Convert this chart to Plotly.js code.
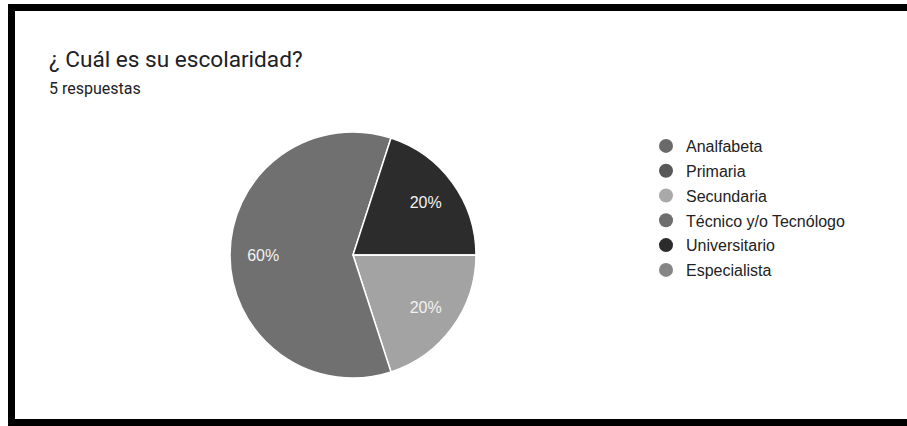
<!DOCTYPE html>
<html>
<head>
<meta charset="utf-8">
<script src="https://cdn.plot.ly/plotly-3.0.1.min.js"></script>
<style>
  html, body { margin: 0; padding: 0; background: #ffffff; }
  #chart { width: 907px; height: 426px; }
</style>
</head>
<body>
<div id="chart"></div>
<script>
// ---- data ----
const categories = ["Analfabeta", "Primaria", "Secundaria", "Técnico y/o Tecnólogo", "Universitario", "Especialista"];
const counts = [0, 0, 1, 3, 1, 0];
const chartTitle = "¿ Cuál es su escolaridad?";
const subtitle = "5 respuestas";

// ---- styles ----
const sliceColors = ["#696969", "#585858", "#a3a3a3", "#707070", "#2c2c2c", "#858585"];
const legendColors = ["#6a6a6a", "#585858", "#a9a9a9", "#6e6e6e", "#2b2b2b", "#858585"];

const W = 907, H = 426;
const px = v => v / W;
const py = v => (H - v) / H;
const pieDomain = { x: [px(230), px(476)], y: [py(378), py(132)] };

// filled slices
const pie = {
  type: "pie",
  labels: categories,
  values: counts,
  sort: false,
  direction: "clockwise",
  rotation: 90,
  marker: { colors: sliceColors, line: { color: "#ffffff", width: 1.5 } },
  textinfo: "none",
  hoverinfo: "label+percent",
  showlegend: false,
  domain: pieDomain
};

// same data, transparent ring carrying the percentage labels further out
const pieLabels = {
  type: "pie",
  labels: categories,
  values: counts,
  sort: false,
  direction: "clockwise",
  rotation: 90,
  hole: 0.46,
  marker: { colors: categories.map(() => "rgba(0,0,0,0)"), line: { width: 0 } },
  textinfo: "percent",
  texttemplate: "%{percent:.0%}",
  textposition: "inside",
  insidetextorientation: "horizontal",
  textfont: { family: "Liberation Sans, Arial, sans-serif", size: 16, color: "#f2f2f2" },
  hoverinfo: "skip",
  showlegend: false,
  domain: pieDomain
};

const legendTraces = categories.map((c, i) => ({
  type: "scatter",
  mode: "markers",
  x: [null],
  y: [null],
  name: c,
  legendgroup: "g" + i,
  marker: { symbol: "circle", size: 14, color: legendColors[i] },
  showlegend: true,
  hoverinfo: "skip"
}));

const layout = {
  width: W,
  height: H,
  margin: { l: 0, r: 0, t: 0, b: 0 },
  paper_bgcolor: "#ffffff",
  plot_bgcolor: "#ffffff",
  xaxis: { visible: false },
  yaxis: { visible: false },
  showlegend: true,
  legend: {
    x: px(646), xanchor: "left",
    y: py(129), yanchor: "top",
    traceorder: "grouped",
    tracegroupgap: 1,
    font: { family: "Liberation Sans, Arial, sans-serif", size: 16, color: "#222222" },
    bgcolor: "rgba(0,0,0,0)",
    itemclick: false
  },
  annotations: [
    { text: chartTitle, xref: "paper", yref: "paper", x: px(47), y: py(59),
      xanchor: "left", yanchor: "middle", showarrow: false,
      font: { family: "Roboto, sans-serif", size: 22.6, color: "#202124" } },
    { text: subtitle, xref: "paper", yref: "paper", x: px(47), y: py(88),
      xanchor: "left", yanchor: "middle", showarrow: false,
      font: { family: "Roboto, sans-serif", size: 16, color: "#202124" } }
  ],
  shapes: [
    { type: "rect", xref: "paper", yref: "paper", x0: px(8), x1: 1, y0: py(11), y1: py(4),
      fillcolor: "#000000", line: { width: 0 } },
    { type: "rect", xref: "paper", yref: "paper", x0: px(8), x1: px(15), y0: 0, y1: py(4),
      fillcolor: "#000000", line: { width: 0 } },
    { type: "rect", xref: "paper", yref: "paper", x0: px(8), x1: 1, y0: 0, y1: py(419),
      fillcolor: "#000000", line: { width: 0 } }
  ]
};

Plotly.newPlot("chart", [pie, pieLabels].concat(legendTraces), layout, { displayModeBar: false, staticPlot: true });
</script>
</body>
</html>
